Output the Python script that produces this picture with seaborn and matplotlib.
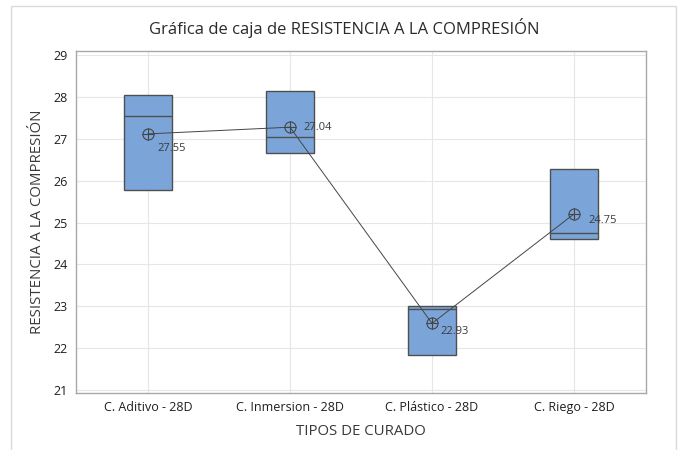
import numpy as np
import pandas as pd
import matplotlib
matplotlib.use("Agg")
import matplotlib.pyplot as plt
import seaborn as sns
from matplotlib.patches import Rectangle

# datos (3 probetas por tipo de curado)
tipos = ["C. Aditivo - 28D", "C. Inmersion - 28D", "C. Plástico - 28D", "C. Riego - 28D"]
aditivo = [25.77, 27.55, 28.04]
inmersion = [26.66, 27.04, 28.14]
plastico = [21.84, 22.93, 23.01]
riego = [24.60, 24.75, 26.27]

# desplazamiento de la etiqueta de mediana (pixeles, desde el símbolo de media)
offsets_etiqueta = [(9, -15), (13, 0), (8, -8), (14, -7)]

sns.set_style("white")
plt.rcParams['font.family'] = ['Open Sans', 'DejaVu Sans']

valores = [aditivo, inmersion, plastico, riego]
df = pd.DataFrame({
    'tipo': np.repeat(tipos, [len(v) for v in valores]),
    'resistencia': np.concatenate(valores),
})

# Minitab calcula cuartiles en la posición (n+1)/4: con n=3 son el mín y el máx.
# Se repiten los extremos para que los percentiles de seaborn caigan ahí.
df_caja = pd.concat([
    df,
    df.groupby('tipo', sort=False)['resistencia'].agg(['min', 'max'])
      .stack().reset_index(level=1, drop=True).rename('resistencia').reset_index(),
], ignore_index=True)

medias = df.groupby('tipo', sort=False)['resistencia'].mean().reindex(tipos)
medianas = df.groupby('tipo', sort=False)['resistencia'].median().reindex(tipos)

fig = plt.figure(figsize=(6.78, 4.5), dpi=100)
ax = fig.add_axes([76 / 678, 1 - 393 / 450, 570 / 678, 342 / 450])

sns.boxplot(data=df_caja, x='tipo', y='resistencia', order=tipos, ax=ax,
            color='#7BA5D9', saturation=1, width=0.34, whis=0,
            showcaps=False, showfliers=False, linecolor='#4F4F4F', linewidth=1)

# línea que une las medias + símbolo ⊕
sns.pointplot(data=df, x='tipo', y='resistencia', order=tipos, ax=ax,
              estimator='mean', errorbar=None, color='#454545',
              markers='o', markersize=8, markerfacecolor='none',
              markeredgewidth=0.8, linewidth=0.7)
ax.plot(range(len(tipos)), medias.values, linestyle='none', marker='+',
        markersize=8, markeredgewidth=0.8, color='#454545', zorder=5)

for i, t in enumerate(tipos):
    ax.annotate(f"{medianas[t]:.2f}", (i, medias[t]),
                xytext=offsets_etiqueta[i], textcoords='offset pixels',
                ha='left', va='center', fontsize=8, color='#3A3A3A')

ax.set_xlim(-0.507, 3.507)
ax.set_ylim(20.93, 29.1)
ax.set_yticks(range(21, 30))
ax.grid(True, color='#E6E6E6', linewidth=0.8)
ax.set_axisbelow(True)
for s in ax.spines.values():
    s.set_color('#A8A8A8')
    s.set_linewidth(1)
ax.tick_params(axis='both', length=4, width=0.8, color='#A8A8A8',
               labelsize=9, labelcolor='#1E1E1E', pad=2)

ax.set_xlabel("TIPOS DE CURADO", fontsize=10.8, color='#3A3A3A', labelpad=7)
ax.set_ylabel("RESISTENCIA A LA COMPRESIÓN", fontsize=10.8, color='#3A3A3A', labelpad=6)
fig.text(344 / 678, 1 - 28 / 450, "Gráfica de caja de RESISTENCIA A LA COMPRESIÓN",
         ha='center', va='center', fontsize=12, color='#2B2B2B')

# marco exterior gris
fig.patches.append(Rectangle((11 / 678, -0.01), 665 / 678, 1 - 6 / 450 + 0.01,
                             transform=fig.transFigure, fill=False,
                             edgecolor='#DADADA', linewidth=1))

fig.savefig("out.png", dpi=100)
